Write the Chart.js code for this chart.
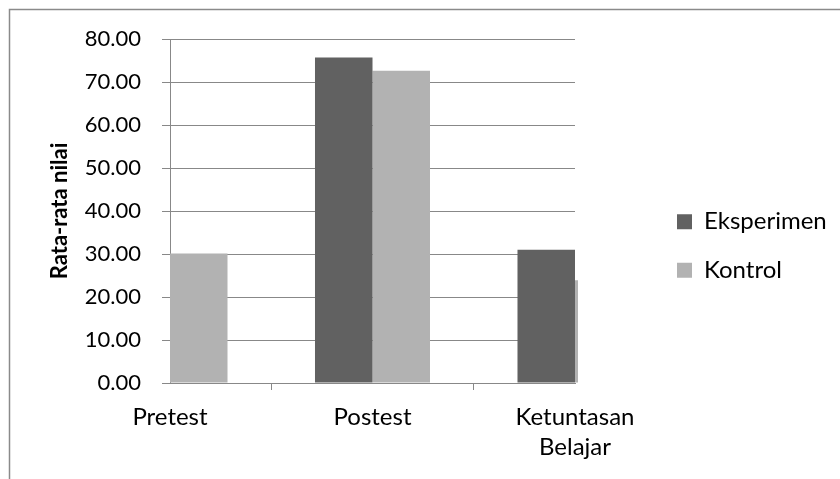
<!DOCTYPE html>
<html>
<head>
<meta charset="utf-8">
<script src="https://cdn.jsdelivr.net/npm/chart.js@4/dist/chart.umd.min.js"></script>
<style>
  html, body { margin: 0; padding: 0; background: #ffffff; }
  #wrap { width: 840px; height: 479px; }
</style>
</head>
<body>
<div id="wrap"><canvas id="c" width="840" height="479"></canvas></div>
<script>
// ---- data ----
const categories = ['Pretest', 'Postest', ['Ketuntasan', 'Belajar']];
const seriesNames = ['Eksperimen', 'Kontrol'];
const eksperimen = [29.0, 75.7, 31.0];
const kontrol = [30.1, 72.6, 23.9];
const yMin = 0, yMax = 80, yStep = 10;
const yTitle = 'Rata-rata nilai';

const FONT = 'Lato, "Open Sans", sans-serif';
const GRID = '#888888';

const framePlugin = {
  id: 'frame',
  beforeDraw(chart) {
    const ctx = chart.ctx;
    ctx.save();
    ctx.fillStyle = '#ffffff';
    ctx.fillRect(0, 0, chart.width, chart.height);
    ctx.strokeStyle = '#8a8a8a';
    ctx.lineWidth = 1.5;
    ctx.beginPath();
    ctx.moveTo(9.5, chart.height);
    ctx.lineTo(9.5, 9.5);
    ctx.lineTo(chart.width, 9.5);
    ctx.stroke();
    ctx.restore();
  }
};

const legendPlace = {
  id: 'legendPlace',
  afterLayout(chart) {
    const lg = chart.legend;
    if (!lg) return;
    const pad = lg.options.labels.padding;
    lg.left = 677 - pad;
    lg.right = lg.left + lg.width;
    lg.top = 246 - 150;
    lg.bottom = 246 + 150;
    lg.height = 300;
  }
};

new Chart(document.getElementById('c'), {
  type: 'bar',
  data: {
    labels: categories,
    datasets: [
      { label: seriesNames[0], data: eksperimen, backgroundColor: '#616161', borderWidth: 0,
        clip: { left: 0, top: false, right: 3, bottom: 0 } },
      { label: seriesNames[1], data: kontrol, backgroundColor: '#b2b2b2', borderWidth: 0,
        clip: { left: 0, top: false, right: 3, bottom: 0 } }
    ]
  },
  options: {
    responsive: false,
    animation: false,
    layout: { padding: { top: 39, left: 0, right: 265, bottom: 0 } },
    datasets: { bar: { categoryPercentage: 0.568, barPercentage: 1.0 } },
    plugins: {
      legend: {
        position: 'chartArea',
        align: 'center',
        labels: {
          boxWidth: 15, boxHeight: 15, padding: 24.5,
          color: '#000000',
          font: { family: FONT, size: 24 }
        }
      },
      tooltip: { enabled: false },
      title: { display: false }
    },
    scales: {
      x: {
        type: 'category',
        offset: false,
        grid: { display: true, drawOnChartArea: false, drawTicks: true, tickLength: 7, color: GRID, lineWidth: 1 },
        border: { display: true, color: GRID, width: 1 },
        ticks: { color: '#000000', padding: 12, maxRotation: 0, autoSkip: false,
          font: { family: FONT, size: 24, lineHeight: 1.25 } },
        afterFit(scale) { scale.height = 96; }
      },
      y: {
        min: yMin, max: yMax,
        grid: { color: GRID, lineWidth: 1, drawTicks: true, tickLength: 8 },
        border: { display: true, color: GRID, width: 1 },
        ticks: { stepSize: yStep, color: '#000000', padding: 21,
          font: { family: FONT, size: 22 },
          callback: (v) => Number(v).toFixed(2) },
        title: { display: true, text: yTitle, color: '#000000',
          font: { family: FONT, size: 22, weight: 'bold' },
          padding: { top: 47, bottom: 0 } },
        afterFit(scale) { scale.width = 170; }
      }
    }
  },
  plugins: [framePlugin, legendPlace]
});
</script>
</body>
</html>
